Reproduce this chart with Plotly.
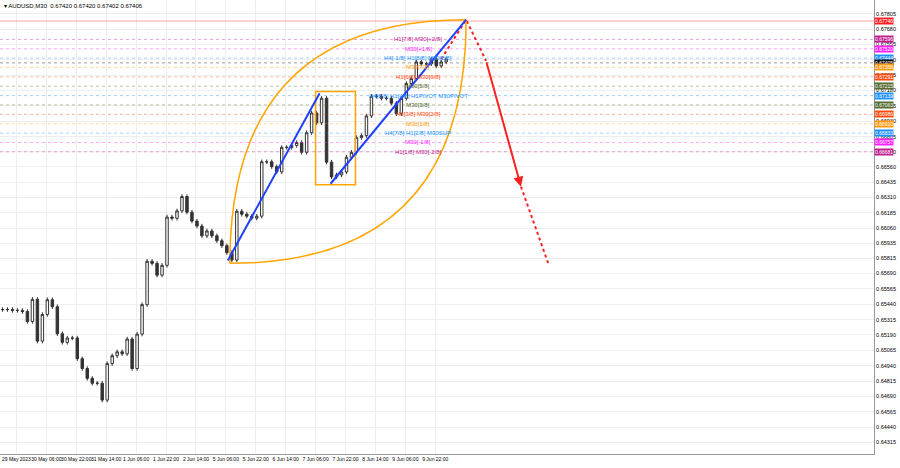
import plotly.graph_objects as go

closes = [
    0.65397, 0.65397, 0.65390, 0.65390, 0.65381, 0.65300, 0.65480, 0.65140, 0.65357, 0.65477,
    0.65420, 0.65200, 0.65130, 0.65165, 0.65165, 0.64997, 0.64917, 0.64837, 0.64797, 0.64797,
    0.64660, 0.64957, 0.65021, 0.65053, 0.65037, 0.65157, 0.64917, 0.65197, 0.65437, 0.65790,
    0.65773, 0.65677, 0.65757, 0.66150, 0.66140, 0.66200, 0.66317, 0.66190, 0.66117, 0.66077,
    0.65997, 0.66037, 0.65997, 0.65957, 0.65917, 0.65860, 0.65800, 0.66197, 0.66173, 0.66157,
    0.66141, 0.66157, 0.66600, 0.66600, 0.66560, 0.66517, 0.66717, 0.66717, 0.66733, 0.66757,
    0.66677, 0.66837, 0.66997, 0.66917, 0.67117, 0.66597, 0.66477, 0.66493, 0.66517, 0.66637,
    0.66677, 0.66797, 0.66813, 0.66973, 0.67133, 0.67133, 0.67117, 0.67117, 0.67077, 0.66990,
    0.67117, 0.67237, 0.67277, 0.67413, 0.67397, 0.67397, 0.67437, 0.67380, 0.67413, 0.67437,
]
wick = 0.00018

time_ticks = [0, 6, 12, 18, 24, 30, 36, 42, 48, 54, 60, 66, 72, 78, 84]
time_labels = [
    "29 May 2023", "30 May 06:00", "30 May 22:00", "31 May 14:00", "1 Jun 06:00",
    "1 Jun 22:00", "2 Jun 14:00", "5 Jun 06:00", "5 Jun 22:00", "6 Jun 14:00",
    "7 Jun 06:00", "7 Jun 22:00", "8 Jun 14:00", "9 Jun 06:00", "9 Jun 22:00",
]

price_ticks = [
    0.67805, 0.67680, 0.67555, 0.67430, 0.67305, 0.67180, 0.67055, 0.66930, 0.66805,
    0.66680, 0.66560, 0.66435, 0.66310, 0.66185, 0.66060, 0.65935, 0.65815, 0.65690,
    0.65565, 0.65440, 0.65315, 0.65190, 0.65065, 0.64940, 0.64815, 0.64690, 0.64565,
    0.64440, 0.64315,
]

level_prices = [0.67746, 0.67596, 0.67520, 0.67444, 0.67405, 0.67368, 0.67291, 0.67215,
                0.67139, 0.67063, 0.66986, 0.66910, 0.66833, 0.66757, 0.66681]
level_colors = ["#ff2020", "#c0208f", "#ff20ff", "#2090ff", "#111111", "#ff9a10", "#ff4a10",
                "#556b2f", "#2090ff", "#556b2f", "#ff4a10", "#ff9a10", "#2090ff", "#ff20ff", "#c0208f"]
level_texts = ["", "H1[7/8] M30[+2/8]", "M30[+1/8]", "H4[-1/8] H1[8/8] M30[8/8]", "",
               "M30[7/8]", "H1[6/8] M30[6/8]", "M30[5/8]", "H4[8/8] H1[4/8] H1PIVOT M30PIVOT",
               "M30[3/8]", "H1[3/8] M30[2/8]", "M30[1/8]", "H4[7/8] H1[2/8] M30SUP",
               "M30[-1/8]", "H1[1/8] M30[-2/8]"]

# forecast path (bar index, price)
fc_x = [93.0, 97.0, 104.0, 109.6]
fc_y = [0.67757, 0.67421, 0.66397, 0.65757]

opens = [closes[0]] + closes[:-1]
highs = [max(o, c) + wick for o, c in zip(opens, closes)]
lows = [min(o, c) - wick for o, c in zip(opens, closes)]
idx = list(range(len(closes)))

fig = go.Figure()
fig.add_trace(go.Candlestick(
    x=idx, open=opens, high=highs, low=lows, close=closes,
    increasing=dict(line=dict(color="#333333", width=1), fillcolor="#ffffff"),
    decreasing=dict(line=dict(color="#333333", width=1), fillcolor="#333333"),
    whiskerwidth=0, showlegend=False, hoverinfo="skip",
))

for p, c, t in zip(level_prices, level_colors, level_texts):
    fig.add_hline(y=p, line=dict(color=c, width=1, dash="solid" if p == level_prices[0] else "3px,3px"),
                  opacity=0.4)
    fig.add_annotation(x=1, xref="paper", y=p, text=f"{p:.5f}", showarrow=False,
                       xanchor="left", font=dict(size=5, color="white"), bgcolor=c,
                       borderpad=0)
    if t:
        fig.add_annotation(x=83.4, y=p, text=t, showarrow=False,
                           font=dict(size=6, color=c, family="Arial"))

# fan arcs and channel lines
fig.add_shape(type="path", path="M 45.6,0.65773 Q 45.6,0.67757 93,0.67757",
              line=dict(color="#ffa500", width=1.5))
fig.add_shape(type="path", path="M 45.6,0.65773 Q 93,0.65773 93,0.67757",
              line=dict(color="#ffa500", width=1.5))
fig.add_shape(type="rect", x0=62.8, x1=70.8, y0=0.66413, y1=0.67173,
              line=dict(color="#ffa500", width=1.5))
fig.add_shape(type="line", x0=45.2, y0=0.65797, x1=63.6, y1=0.67157,
              line=dict(color="#2040ff", width=2))
fig.add_shape(type="line", x0=65.8, y0=0.66421, x1=93.0, y1=0.67757,
              line=dict(color="#2040ff", width=2))

fig.add_trace(go.Scatter(x=[88.0, fc_x[0], fc_x[1]], y=[0.67437, fc_y[0], fc_y[1]],
                         mode="lines", line=dict(color="#ff2020", width=2, dash="dot"),
                         showlegend=False, hoverinfo="skip"))
fig.add_annotation(x=fc_x[2], y=fc_y[2], ax=fc_x[1], ay=fc_y[1], axref="x", ayref="y",
                   xref="x", yref="y", showarrow=True, arrowhead=2, arrowsize=1,
                   arrowwidth=2, arrowcolor="#ff2020", text="")
fig.add_trace(go.Scatter(x=fc_x[2:], y=fc_y[2:], mode="lines",
                         line=dict(color="#ff2020", width=2, dash="dot"),
                         showlegend=False, hoverinfo="skip"))

fig.add_annotation(x=0.002, y=0.998, xref="paper", yref="paper", xanchor="left", yanchor="top",
                   text="▾ AUDUSD,M30  0.67420 0.67420 0.67402 0.67406", showarrow=False,
                   font=dict(size=6, color="#000000"))

fig.update_layout(
    width=900, height=468, margin=dict(l=0, r=26, t=0, b=14, autoexpand=False),
    paper_bgcolor="white", plot_bgcolor="white",
    font=dict(family="Arial", size=6, color="#000000"),
    xaxis=dict(range=[-0.5, 174.8], tickvals=[t + 2.8 for t in time_ticks], ticktext=time_labels,
               showgrid=True, gridcolor="#eeeeee", rangeslider=dict(visible=False),
               showline=True, linecolor="#999999", mirror=True, ticks="", zeroline=False,
               tickfont=dict(size=5), tickangle=0, automargin=False),
    yaxis=dict(range=[0.64221, 0.67917], side="right", tickvals=price_ticks,
               ticktext=[f"{v:.5f}" for v in price_ticks], showgrid=True, gridcolor="#eeeeee",
               showline=True, linecolor="#999999", mirror=True, ticks="", zeroline=False,
               tickfont=dict(size=5.5), automargin=False),
)

fig.write_html("out.html", config={"displayModeBar": False},
               post_script="document.body.style.margin='0';")
